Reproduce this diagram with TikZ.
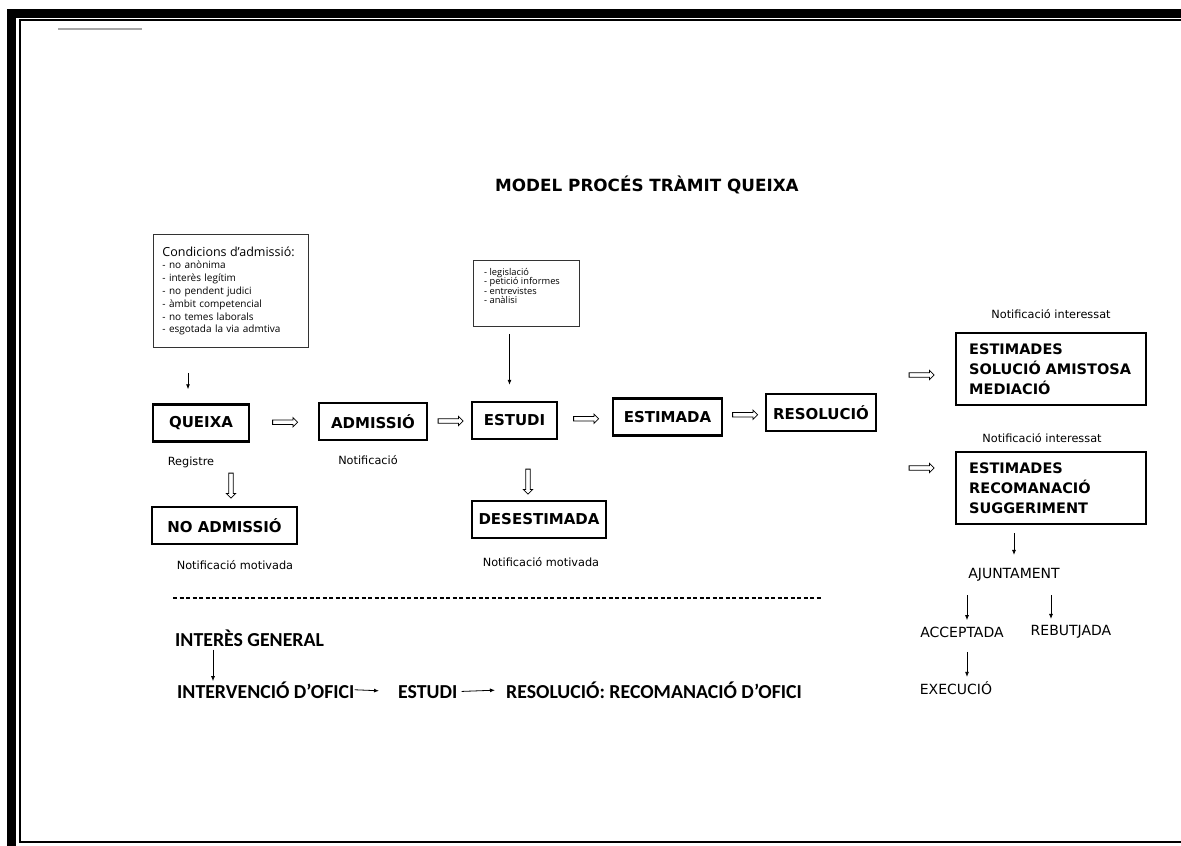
\documentclass[tikz,border=0pt]{standalone}
\usepackage{fontspec}
\setmainfont{DejaVu Sans}
\newfontfamily\opensans{Open Sans}
\newfontfamily\carlito{Carlito}
\usetikzlibrary{arrows.meta,shapes.arrows,calc,positioning}
\newcommand*\boxline{2.4pt}
\newcommand*\boxheight{37pt}
\tikzset{
    stagebox/.style   = {draw, line width=\boxline, minimum height=\boxheight,
                        inner sep=0pt, font=\fontsize{15}{17}\selectfont\bfseries},
    listbox/.style    = {stagebox, anchor=north west, minimum width=190pt,
                        minimum height=72pt, text width=164pt, align=left,
                        inner xsep=12pt, font=\fontsize{14.5}{20}\selectfont\bfseries},
    infobox/.style    = {draw=black!80, line width=0.9pt, inner sep=0pt},
    infotext/.style   = {anchor=north west, inner sep=0pt, align=left,
                        font=\opensans\fontsize{9.3}{9.4}\selectfont},
    notetext/.style   = {font=\fontsize{11.3}{13}\selectfont},
    citytext/.style   = {font=\fontsize{14}{16}\selectfont},
    oficitext/.style  = {inner sep=0pt, font=\carlito\bfseries\fontsize{19.8}{22}\selectfont},
    blockarrow/.style = {draw, single arrow, line width=0.8pt, minimum height=25pt,
                        single arrow head extend=2.5pt, single arrow head indent=0pt,
                        inner sep=1.8pt},
    downarrow/.style  = {blockarrow, shape border rotate=270},
    thinarrow/.style  = {-{Latex[length=5pt,width=4pt]}, line width=0.8pt},
  }

\begin{document}
\begin{tikzpicture}[x=1pt, y=-1pt]
    \useasboundingbox (0,0) rectangle (1181,846);

    % page frame and scan mark
    \fill (7,9) rectangle (1181,18);
    \fill (7,9) rectangle (16,846);
    \draw[line width=2pt] (1181,20) -- (20,20) -- (20,842) -- (1181,842);
    \draw[gray!70, line width=1.2pt] (58,29) -- (142,29);

    % title
    \node[font=\fontsize{16.8}{18}\selectfont\bfseries] (title) at (647,185) {MODEL PROCÉS TRÀMIT QUEIXA};

    % information boxes
    \node[infobox, anchor=north west, minimum width=155pt, minimum height=113pt,
          text width=137pt, align=left, inner xsep=9pt,
          font=\opensans\fontsize{10}{12.8}\selectfont] (admcond) at (153,234)
        {{\fontsize{12.5}{13}\selectfont Condicions d’admissió:}\\
         - no anònima\\ - interès legítim\\ - no pendent judici\\
         - àmbit competencial\\ - no temes laborals\\ - esgotada la via admtiva};
    \node[infobox, anchor=north west, minimum width=106pt, minimum height=66pt] (studyinfo) at (473,260) {};
    \node[infotext] (studytxt) at (484,268)
        {- legislació\\ - petició informes\\ - entrevistes\\ - anàlisi};

    % main row
    \node[stagebox, minimum width=96pt]  (queixa)    at (201,423)   {QUEIXA};
    \node[stagebox, minimum width=108pt] (admissio)  at (373,421.5) {ADMISSIÓ};
    \node[stagebox, minimum width=85pt]  (estudi)    at (514.5,420.5) {ESTUDI};
    \node[stagebox, minimum width=109pt] (estimada)  at (667.5,417) {ESTIMADA};
    \node[stagebox, minimum width=110pt] (resolucio) at (821,412.5) {RESOLUCIÓ};
    \node[stagebox, minimum width=145pt] (noadmissio) at (224.5,525.5) {NO ADMISSIÓ};
    \node[stagebox, minimum width=134pt] (desestimada) at (539,519.5) {DESESTIMADA};

    % right column
    \node[listbox] (amistosa)    at (955,332) {ESTIMADES\\SOLUCIÓ AMISTOSA\\MEDIACIÓ};
    \node[listbox] (suggeriment) at (955,451) {ESTIMADES\\RECOMANACIÓ\\SUGGERIMENT};
    \node[notetext] (notint1) at (1051,314) {Notificació interessat};
    \node[notetext] (notint2) at (1042,438) {Notificació interessat};
    \node[citytext] (ajuntament) at (1014,575) {AJUNTAMENT};
    \node[citytext] (acceptada)  at (962,632)  {ACCEPTADA};
    \node[citytext] (rebutjada)  at (1071,632) {REBUTJADA};
    \node[citytext] (execucio)   at (956,688)  {EXECUCIÓ};

    % notes under the boxes
    \node[notetext] (registre) at (191,462) {Registre};
    \node[notetext] (notadm)   at (368,460) {Notificació};
    \node[notetext] (notmot1)  at (235,565) {Notificació motivada};
    \node[notetext] (notmot2)  at (541,562) {Notificació motivada};

    % hollow arrows
    \node[blockarrow] (qa) at ($(queixa.east)!0.5!(admissio.west)$) {};
    \node[blockarrow] (ae) at ($(admissio.east)!0.5!(estudi.west)$) {};
    \node[blockarrow] (ee) at ($(estudi.east)!0.5!(estimada.west)$) {};
    \node[blockarrow] (er) at ($(estimada.east)!0.5!(resolucio.west)$) {};
    \node[blockarrow] (ra) at (920.5,375) {};
    \node[blockarrow] (rs) at (920.5,468) {};
    \node[downarrow]  (qn) at (231,484.5) {};
    \node[downarrow]  (ed) at (528,480.5) {};

    % thin arrows
    \draw[thinarrow, shorten <=25pt, shorten >=14pt]
        ([xshift=-13pt]queixa.north |- admcond.south) -- ([xshift=-13pt]queixa.north);
    \draw[thinarrow, shorten <=7pt, shorten >=16pt]
        ([xshift=-5pt]estudi.north |- studyinfo.south) -- ([xshift=-5pt]estudi.north);
    \draw[thinarrow, shorten <=8pt, shorten >=10pt]
        (ajuntament.north |- suggeriment.south) -- (ajuntament.north);
    \draw[thinarrow, shorten <=10pt, shorten >=3pt]
        ([xshift=5pt]acceptada.north |- ajuntament.south) -- ([xshift=5pt]acceptada.north);
    \draw[thinarrow, shorten <=10pt, shorten >=3pt]
        ([xshift=-20pt]rebutjada.north |- ajuntament.south) -- ([xshift=-20pt]rebutjada.north);
    \draw[thinarrow, shorten <=11pt, shorten >=1pt]
        ([xshift=11pt]execucio.north |- acceptada.south) -- ([xshift=11pt]execucio.north);

    % ex officio part
    \draw[line width=1.2pt, dash pattern=on 4pt off 2.5pt] (173,598) -- (822,598);
    \node[oficitext, anchor=west] (interes) at (175,638) {INTERÈS GENERAL};
    \node[oficitext, anchor=base west] (intervencio) at (177,698) {INTERVENCIÓ D’OFICI};
    \node[oficitext, anchor=base west] (estudiofici) at (398,698) {ESTUDI};
    \node[oficitext, anchor=base west] (resofici)    at (506,698) {RESOLUCIÓ: RECOMANACIÓ D’OFICI};
    \draw[thinarrow, shorten <=3pt]
        ([xshift=38pt]interes.south west) -- ([xshift=36pt]intervencio.north west);
    \draw[thinarrow, shorten >=19pt] (intervencio.east) -- (estudiofici.west);
    \draw[thinarrow, shorten <=4pt, shorten >=11pt] (estudiofici.east) -- (resofici.west);
\end{tikzpicture}
\end{document}
